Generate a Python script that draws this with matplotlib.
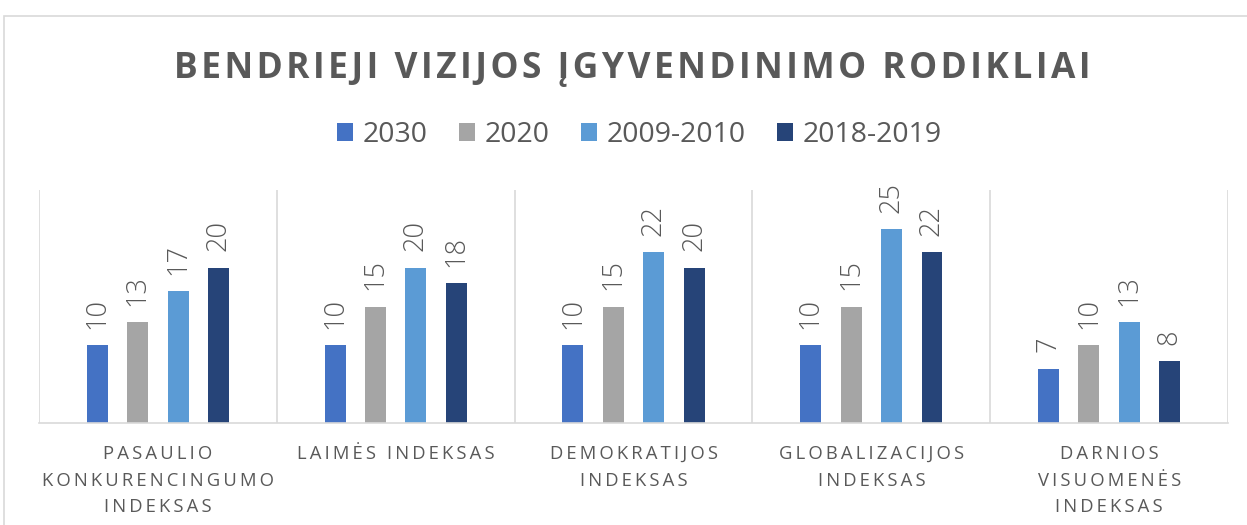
import numpy as np
import matplotlib.pyplot as plt
from matplotlib.patches import Rectangle

# Datos del grafico
categorias = ['PASAULIO\nKONKURENCINGUMO\nINDEKSAS', 'LAIMĖS INDEKSAS',
              'DEMOKRATIJOS\nINDEKSAS', 'GLOBALIZACIJOS\nINDEKSAS',
              'DARNIOS\nVISUOMENĖS\nINDEKSAS']
series = ['2030', '2020', '2009-2010', '2018-2019']
v2030 = [10, 10, 10, 10, 7]
v2020 = [13, 15, 15, 15, 10]
v2009 = [17, 20, 22, 25, 13]
v2018 = [20, 18, 20, 22, 8]
colores = ['#4472C4', '#A5A5A5', '#5B9BD5', '#264478']

TXT = '#595959'
FAM = ['Open Sans', 'DejaVu Sans']


def espaciar(s, sep='\u2009'):
    # Separar letras para imitar el espaciado de caracteres
    return '\n'.join(sep.join(linea) for linea in s.split('\n'))


fig = plt.figure(figsize=(12.47, 5.25), dpi=100)
ax = fig.add_axes([0.0313, 0.1943, 0.9535, 0.4437])

# Marco exterior del grafico
fig.patches.append(Rectangle((4 / 1247, -0.1), 1.2, (525 - 16) / 525 + 0.1,
                             transform=fig.transFigure, fill=False,
                             edgecolor='#D9D9D9', linewidth=1.2))

x = np.arange(len(categorias))
ancho = 0.088
paso = 0.17
valores = [v2030, v2020, v2009, v2018]
for i, (vals, nombre, c) in enumerate(zip(valores, series, colores)):
    pos = x + (i - 1.5) * paso
    bars = ax.bar(pos, vals, width=ancho, color=c, label=nombre)
    for b in bars:
        h = b.get_height()
        ax.text(b.get_x() + b.get_width() / 2, h + 2.1, f'{int(h)}',
                rotation=90, ha='center', va='bottom', fontsize=19.5,
                color=TXT, family=FAM, fontweight='light')

ax.set_xlim(-0.5, len(categorias) - 0.5)
ax.set_ylim(0, 30)
ax.set_yticks([])
ax.set_xticks(x)
ax.set_xticklabels([espaciar(c) for c in categorias], fontsize=13.3,
                   color=TXT, family=FAM, linespacing=1.6)
ax.tick_params(axis='x', length=0, pad=16)
for s in ['top', 'right', 'left']:
    ax.spines[s].set_visible(False)
ax.spines['bottom'].set_color('#D9D9D9')
ax.spines['bottom'].set_linewidth(1.2)

# Lineas separadoras entre categorias
for sx in np.arange(-0.5, len(categorias), 1.0):
    ax.axvline(sx, color='#D9D9D9', linewidth=1.2)

fig.text(0.507, 0.868, espaciar('BENDRIEJI VIZIJOS ĮGYVENDINIMO RODIKLIAI', '\u200a'),
         ha='center', va='center', fontsize=25.5, fontweight='bold',
         color=TXT, family=FAM)

fig.legend(loc='center', bbox_to_anchor=(0.513, 0.742), ncol=4, frameon=False,
           handlelength=0.55, handleheight=0.6, handletextpad=0.35,
           columnspacing=1.1, prop={'family': FAM, 'size': 20.5},
           labelcolor=TXT)

fig.savefig('out.png', dpi=100)
